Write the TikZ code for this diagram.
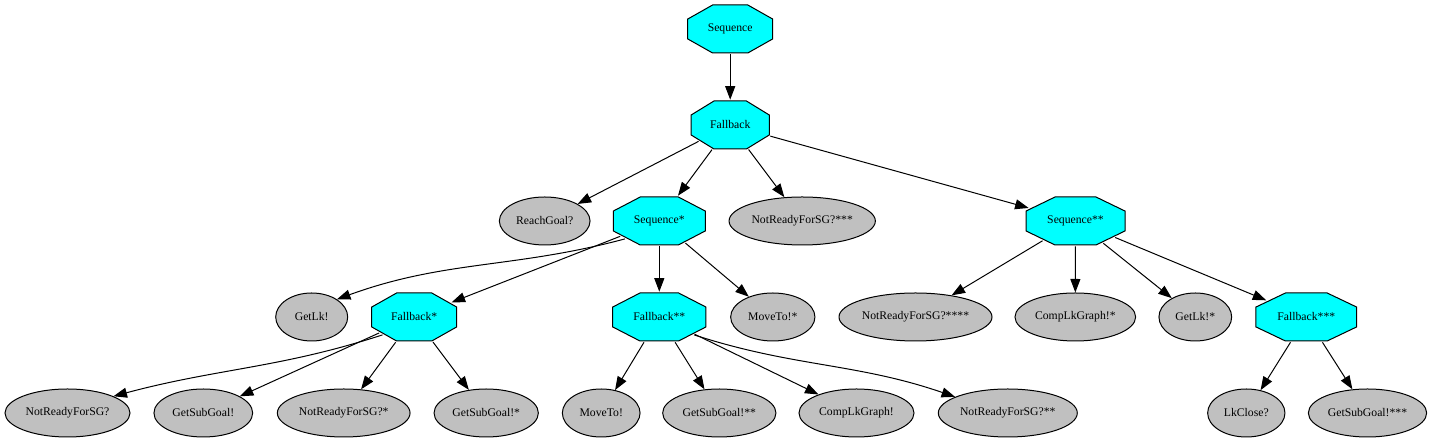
\documentclass[tikz,border=0pt]{standalone}
\usepackage{fontspec}
\newfontfamily\gvfont{Liberation Serif}
\usetikzlibrary{shapes.geometric,arrows.meta}
\definecolor{leafgray}{HTML}{C0C0C0}
\definecolor{octcyan}{HTML}{00FFFF}
\newcommand\gvtext{\gvfont\fontsize{11.7}{14}\selectfont}
\tikzset{
  oct/.style={regular polygon, regular polygon sides=8, minimum size=20pt,
    inner sep=0pt, draw=black, fill=octcyan, line width=1pt, yscale=2.5977, transform shape},
  leaf/.style={ellipse, draw=black, fill=leafgray, line width=1pt,
    minimum height=48pt, inner sep=0pt, font=\gvtext},
  lbl/.style={inner sep=0pt, font=\gvtext},
  edge/.style={line width=1pt, -{Triangle[length=13.5pt,width=10pt]}},
}
\newcommand\octnode[5]{%
  \node[oct, xscale=#4] (#1) at (#2,#3) {};
  \node[lbl] (#1t) at (#1.center) {#5};}
\begin{document}
\begin{tikzpicture}[x=1pt,y=1pt]
\useasboundingbox (0,0) rectangle (1432,443);
% row 0 / 1
\octnode{seq}{730.2}{414}{4.600}{Sequence}
\octnode{fb}{730.2}{318}{4.238}{Fallback}
% row 2
\node[leaf, minimum width=90.7pt] (reach) at (544.7,222) {ReachGoal?};
\octnode{seqa}{659.3}{222}{4.979}{Sequence*}
\node[leaf, minimum width=146.3pt] (nrc) at (802.2,222) {NotReadyForSG?***};
\octnode{seqb}{1075.5}{222}{5.358}{Sequence**}
% row 3
\node[leaf, minimum width=72pt] (getlk) at (311.7,126) {GetLk!};
\octnode{fba}{414.2}{126}{4.600}{Fallback*}
\octnode{fbb}{659.3}{126}{5.049}{Fallback**}
\node[leaf, minimum width=84.3pt] (movea) at (772.8,126) {MoveTo!*};
\node[leaf, minimum width=153pt] (nrd) at (915.5,126) {NotReadyForSG?****};
\node[leaf, minimum width=120.7pt] (compa) at (1075.3,126) {CompLkGraph!*};
\node[leaf, minimum width=72.7pt] (getlka) at (1195.3,126) {GetLk!*};
\octnode{fbc}{1306.3}{126}{5.450}{Fallback***}
% row 4
\node[leaf, minimum width=125pt] (nr) at (67.5,30) {NotReadyForSG?};
\node[leaf, minimum width=98.7pt] (gsg) at (203.3,30) {GetSubGoal!};
\node[leaf, minimum width=132.7pt] (nra) at (343.7,30) {NotReadyForSG?*};
\node[leaf, minimum width=104.3pt] (gsga) at (486.2,30) {GetSubGoal!*};
\node[leaf, minimum width=77.7pt] (move) at (601.2,30) {MoveTo!};
\node[leaf, minimum width=113.3pt] (gsgb) at (719.3,30) {GetSubGoal!**};
\node[leaf, minimum width=115pt] (comp) at (856.5,30) {CompLkGraph!};
\node[leaf, minimum width=139pt] (nrb) at (1007.8,30) {NotReadyForSG?**};
\node[leaf, minimum width=77.3pt] (lkclose) at (1246.3,30) {LkClose?};
\node[leaf, minimum width=118.3pt] (gsgc) at (1367.5,30) {GetSubGoal!***};
% edges
\draw[edge] (seq) -- (fb);
\draw[edge] (fb) -- (reach);
\draw[edge] (fb) -- (seqa);
\draw[edge] (fb) -- (nrc);
\draw[edge] (fb) -- (seqb);
\draw[edge] (seqa.225) to[out=195,in=20] (getlk.35);
\draw[edge] (seqa) -- (fba);
\draw[edge] (seqa) -- (fbb);
\draw[edge] (seqa) -- (movea);
\draw[edge] (seqb) -- (nrd);
\draw[edge] (seqb) -- (compa);
\draw[edge] (seqb) -- (getlka);
\draw[edge] (seqb) -- (fbc);
\draw[edge] (fba.225) to[out=198,in=15] (nr.20);
\draw[edge] (fba) -- (gsg);
\draw[edge] (fba) -- (nra);
\draw[edge] (fba) -- (gsga);
\draw[edge] (fbb) -- (move);
\draw[edge] (fbb) -- (gsgb);
\draw[edge] (fbb) -- (comp);
\draw[edge] (fbb.315) to[out=-18,in=161] (nrb.163);
\draw[edge] (fbc) -- (lkclose);
\draw[edge] (fbc) -- (gsgc);
\end{tikzpicture}
\end{document}
